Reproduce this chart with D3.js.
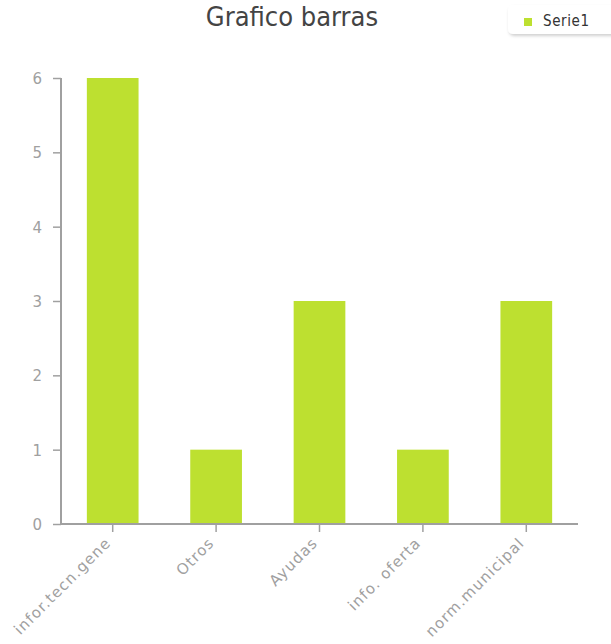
<!DOCTYPE html>
<html><head><meta charset="utf-8">
<script src="https://cdn.jsdelivr.net/npm/d3@7"></script>
<style>body{margin:0;background:#fff;}svg{display:block;}</style>
</head><body>
<script>
const categories = ["infor.tecn.gene", "Otros", "Ayudas", "info. oferta", "norm.municipal"];
const values = [6, 1, 3, 1, 3];
const yTicks = [0, 1, 2, 3, 4, 5, 6];
const seriesName = "Serie1";
const chartTitle = "Grafico barras";

(function(){
const W = 611, H = 644;
const svg = d3.select("body").append("svg").attr("width", W).attr("height", H);
const defs = svg.append("defs");
const f = defs.append("filter").attr("id","sh").attr("x","-20%").attr("y","-30%").attr("width","140%").attr("height","180%");
f.append("feDropShadow").attr("dx",1).attr("dy",2).attr("stdDeviation",1.5).attr("flood-color","#000").attr("flood-opacity",0.18);

const mLeft = 61, mRight = 578, mTop = 78, mBottom = 524;
const x = d3.scaleBand().domain(categories).range([mLeft, mRight]).paddingInner(0.5).paddingOuter(0.25);
const y = d3.scaleLinear().domain([0, 6]).range([mBottom, mTop]);

const axisColor = "#a0a0a0", labelColor = "#a0a0a0";

// bars
svg.append("g").selectAll("rect").data(values).join("rect")
  .attr("x", (d,i) => x(categories[i]))
  .attr("y", d => y(d))
  .attr("width", x.bandwidth())
  .attr("height", d => y(0) - y(d))
  .attr("fill", "#bde030");

// y axis
const ya = svg.append("g").attr("transform", `translate(${mLeft},0)`)
  .call(d3.axisLeft(y).tickValues(yTicks).tickFormat(d3.format("d")).tickSize(8).tickPadding(11));
ya.select(".domain").attr("stroke", axisColor).attr("stroke-width", 2).attr("d", `M0,${mTop}V${mBottom}`);
ya.selectAll(".tick line").attr("stroke", axisColor).attr("stroke-width", 1.5);
ya.selectAll(".tick text").attr("fill", labelColor).attr("font-family", "DejaVu Sans").attr("font-size", 15).attr("dy", "0.36em");

// x axis
const xa = svg.append("g").attr("transform", `translate(0,${mBottom})`)
  .call(d3.axisBottom(x).tickSize(8).tickPadding(6));
xa.select(".domain").attr("stroke", axisColor).attr("stroke-width", 2).attr("d", `M${mLeft},0H${mRight}`);
xa.selectAll(".tick line").attr("stroke", axisColor).attr("stroke-width", 1.5);
xa.selectAll(".tick text").attr("fill", labelColor).attr("font-family", "DejaVu Sans").attr("font-size", 15)
  .attr("letter-spacing", "1.1px")
  .attr("text-anchor", "end").attr("dy", null)
  .attr("transform", "translate(-1,20) rotate(-45)").attr("y", 0).attr("x", 0);

// title
svg.append("text").attr("x", 292).attr("y", 26).attr("text-anchor", "middle")
  .attr("font-family", "DejaVu Sans Condensed, DejaVu Sans").attr("font-size", 27).attr("fill", "#444")
  .text(chartTitle);

// legend
const lg = svg.append("g");
lg.append("rect").attr("x", 508).attr("y", 5).attr("width", 108).attr("height", 29).attr("rx", 5)
  .attr("fill", "#fff").attr("filter", "url(#sh)");
lg.append("rect").attr("x", 524).attr("y", 18).attr("width", 8).attr("height", 8).attr("fill", "#bde030");
lg.append("text").attr("x", 543).attr("y", 26).attr("font-family", "DejaVu Sans Condensed, DejaVu Sans").attr("font-size", 15)
  .attr("letter-spacing", "0.6px").attr("fill", "#333").text(seriesName);
})();
</script>
</body></html>
